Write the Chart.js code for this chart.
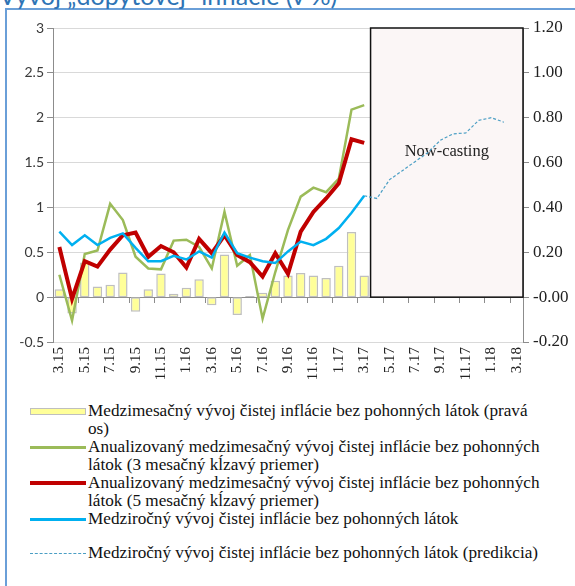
<!DOCTYPE html>
<html>
<head>
<meta charset="utf-8">
<script src="https://cdn.jsdelivr.net/npm/chart.js@4.4.1/dist/chart.umd.min.js"></script>
<style>
  body { margin: 0; width: 575px; height: 586px; overflow: hidden; background: #fff; position: relative; }
  #frame { position: absolute; left: 5px; top: 8px; width: 620px; height: 620px; border-left: 2px solid #6a9fd8; border-top: 2px solid #6a9fd8; }
  #title { position: absolute; left: -1px; top: -17px; font: 25px Lato, sans-serif; line-height: 25px; color: #2E74B5; white-space: nowrap; }
  #wrap { position: absolute; left: 0; top: 0; width: 575px; height: 400px; }
  #legend { position: absolute; left: 30px; top: 402px; font: 17.2px "Liberation Serif", serif; line-height: 18px; color: #111; }
  .item { display: flex; align-items: flex-start; white-space: nowrap; }
  .swatch { width: 56px; height: 18px; position: relative; margin-right: 2px; flex: none; }
  .swatch span { position: absolute; left: 0; right: 0; top: 50%; }
</style>
</head>
<body>
<div id="frame"></div>
<div id="title">Vývoj „dopytovej“ inflácie (v %)</div>
<div id="wrap"><canvas id="chart"></canvas></div>
<div id="legend"></div>
<script>
const months = ['3.15','4.15','5.15','6.15','7.15','8.15','9.15','10.15','11.15','12.15',
  '1.16','2.16','3.16','4.16','5.16','6.16','7.16','8.16','9.16','10.16','11.16','12.16',
  '1.17','2.17','3.17','4.17','5.17','6.17','7.17','8.17','9.17','10.17','11.17','12.17',
  '1.18','2.18','3.18'];

// right axis
const monthlyCore = [0.035, -0.073, 0.155, 0.048, 0.055, 0.11, -0.065, 0.035, 0.105, 0.015,
  0.042, 0.08, -0.036, 0.19, -0.08, 0.005, 0.02, 0.073, 0.097, 0.108, 0.097, 0.085,
  0.14, 0.29, 0.097];

// left axis
const annualized3m = [0.25, -0.26, 0.48, 0.52, 1.04, 0.86, 0.45, 0.32, 0.31, 0.63,
  0.64, 0.56, 0.32, 0.95, 0.35, 0.47, -0.24, 0.28, 0.75, 1.12, 1.22, 1.17,
  1.32, 2.09, 2.14];
const annualized5m = [0.56, -0.02, 0.40, 0.34, 0.53, 0.69, 0.72, 0.45, 0.57, 0.50,
  0.33, 0.65, 0.49, 0.69, 0.47, 0.39, 0.23, 0.49, 0.26, 0.73, 0.95, 1.10,
  1.27, 1.76, 1.72];
const yoyCore = [0.73, 0.58, 0.69, 0.58, 0.66, 0.71, 0.55, 0.40, 0.40, 0.46,
  0.42, 0.51, 0.44, 0.72, 0.49, 0.44, 0.40, 0.38, 0.51, 0.62, 0.58, 0.65,
  0.77, 0.94, 1.13];
const yoyForecast = [null, null, null, null, null, null, null, null, null, null,
  null, null, null, null, null, null, null, null, null, null, null, null,
  null, null, 1.13, 1.10, 1.31, 1.41, 1.51, 1.61, 1.75, 1.82, 1.83, 1.97, 2.00, 1.95, null];

const seriesLabels = [
  'Medzimesačný vývoj čistej inflácie bez pohonných látok (pravá\nos)',
  'Anualizovaný medzimesačný vývoj čistej inflácie bez pohonných\nlátok (3 mesačný kĺzavý priemer)',
  'Anualizovaný medzimesačný vývoj čistej inflácie bez pohonných\nlátok (5 mesačný kĺzavý priemer)',
  'Medziročný vývoj čistej inflácie bez pohonných látok',
  'Medziročný vývoj čistej inflácie bez pohonných látok (predikcia)'
];

const nowcastFrom = '4.17';
const nowcastTo = '3.18';
const nowcastTop = 1.2;
const nowcastText = 'Now-casting';

const serif = '"Liberation Serif", "Times New Roman", serif';

const nowcastBox = {
  id: 'nowcastBox',
  beforeDatasetsDraw(chart) {
    const { ctx, scales: { x, y2 } } = chart;
    const half = (x.getPixelForValue(1) - x.getPixelForValue(0)) / 2;
    const left = x.getPixelForValue(months.indexOf(nowcastFrom)) - half;
    const right = x.getPixelForValue(months.indexOf(nowcastTo)) + half;
    const top = y2.getPixelForValue(nowcastTop);
    const bottom = y2.getPixelForValue(0);
    ctx.save();
    ctx.fillStyle = '#FBF6F6';
    ctx.fillRect(left, top, right - left, bottom - top);
    ctx.strokeStyle = '#111';
    ctx.lineWidth = 1.5;
    ctx.strokeRect(left, top, right - left, bottom - top);
    ctx.fillStyle = '#222';
    ctx.font = '16.5px ' + serif;
    ctx.textAlign = 'center';
    ctx.textBaseline = 'middle';
    ctx.fillText(nowcastText, (left + right) / 2, y2.getPixelForValue(0.65));
    ctx.restore();
  }
};

const axisGray = '#8c8c8c';
const gridGray = '#d9d9d9';

const chart = new Chart(document.getElementById('chart'), {
  type: 'bar',
  data: {
    labels: months,
    datasets: [
      {
        label: seriesLabels[0],
        data: monthlyCore,
        yAxisID: 'y2',
        backgroundColor: '#FFFF99',
        borderColor: '#BFBFBF',
        borderWidth: 1.5,
        borderSkipped: false,
        barPercentage: 1,
        categoryPercentage: 0.74,
        order: 5,
      },
      {
        type: 'line',
        label: seriesLabels[1],
        data: annualized3m,
        borderColor: '#9BBB59',
        borderWidth: 2.5,
        pointRadius: 0,
        tension: 0,
        order: 3,
      },
      {
        type: 'line',
        label: seriesLabels[2],
        data: annualized5m,
        borderColor: '#C00000',
        borderWidth: 4,
        pointRadius: 0,
        tension: 0,
        order: 2,
      },
      {
        type: 'line',
        label: seriesLabels[3],
        data: yoyCore,
        borderColor: '#00B0F0',
        borderWidth: 2.5,
        pointRadius: 0,
        tension: 0,
        order: 1,
      },
      {
        type: 'line',
        label: seriesLabels[4],
        data: yoyForecast,
        borderColor: '#4A9EC4',
        borderWidth: 1.2,
        borderDash: [3, 2],
        pointRadius: 0,
        tension: 0,
        order: 1,
      },
    ],
  },
  options: {
    responsive: true,
    maintainAspectRatio: false,
    animation: false,
    layout: { padding: { top: 28, left: 0, right: 0, bottom: 0 } },
    plugins: { legend: { display: false }, tooltip: { enabled: false } },
    scales: {
      x: {
        grid: { display: false, drawTicks: false },
        border: { display: false },
        ticks: {
          autoSkip: false,
          maxRotation: 90,
          minRotation: 90,
          padding: 5,
          color: '#222',
          font: { family: serif, size: 15 },
          callback: (v, i) => (i % 2 === 0 ? months[i] : ''),
        },
        afterFit: (axis) => { axis.height = 58; },
      },
      x2: {
        type: 'category',
        position: { y: 0 },
        offset: true,
        grid: {
          offset: true,
          drawOnChartArea: false,
          drawTicks: true,
          tickLength: 5,
          tickColor: (c) => (c.index % 2 === 0 ? axisGray : 'rgba(0,0,0,0)'),
        },
        border: { color: axisGray, width: 1 },
        ticks: { display: false, autoSkip: false },
      },
      y: {
        min: -0.5,
        max: 3,
        ticks: {
          stepSize: 0.5,
          padding: 3,
          color: '#3a3a3a',
          font: { family: 'Lato, sans-serif', size: 14 },
          callback: (v) => String(v),
        },
        grid: { color: gridGray, tickColor: axisGray, tickLength: 6 },
        border: { color: axisGray },
        afterFit: (axis) => { axis.width = 53; },
      },
      y2: {
        position: 'right',
        min: -0.2,
        max: 1.2,
        ticks: {
          stepSize: 0.2,
          padding: 4,
          color: '#222',
          font: { family: serif, size: 17 },
          callback: (v) => v.toFixed(2),
        },
        grid: { drawOnChartArea: false, tickColor: axisGray, tickLength: 6 },
        border: { color: axisGray },
        afterFit: (axis) => { axis.width = 52; },
      },
    },
  },
  plugins: [nowcastBox],
});

// legend as html, so the long labels can wrap like the original
const swatchStyles = [
  'height:5px;margin-top:-3px;background:#FFFF99;border:1px solid #BFBFBF;',
  'height:2.5px;margin-top:-1px;background:#9BBB59;',
  'height:4px;margin-top:-2px;background:#C00000;',
  'height:2.5px;margin-top:-1px;background:#00B0F0;',
  'height:0;border-top:1px dashed #4A9EC4;',
];
const legend = document.getElementById('legend');
chart.data.datasets.forEach((ds, i) => {
  const item = document.createElement('div');
  item.className = 'item';
  if (i === 4) item.style.marginTop = '16px';
  item.innerHTML = `<div class="swatch"><span style="${swatchStyles[i]}"></span></div>` +
    `<div>${ds.label.split('\n').join('<br>')}</div>`;
  legend.appendChild(item);
});
</script>
</body>
</html>
